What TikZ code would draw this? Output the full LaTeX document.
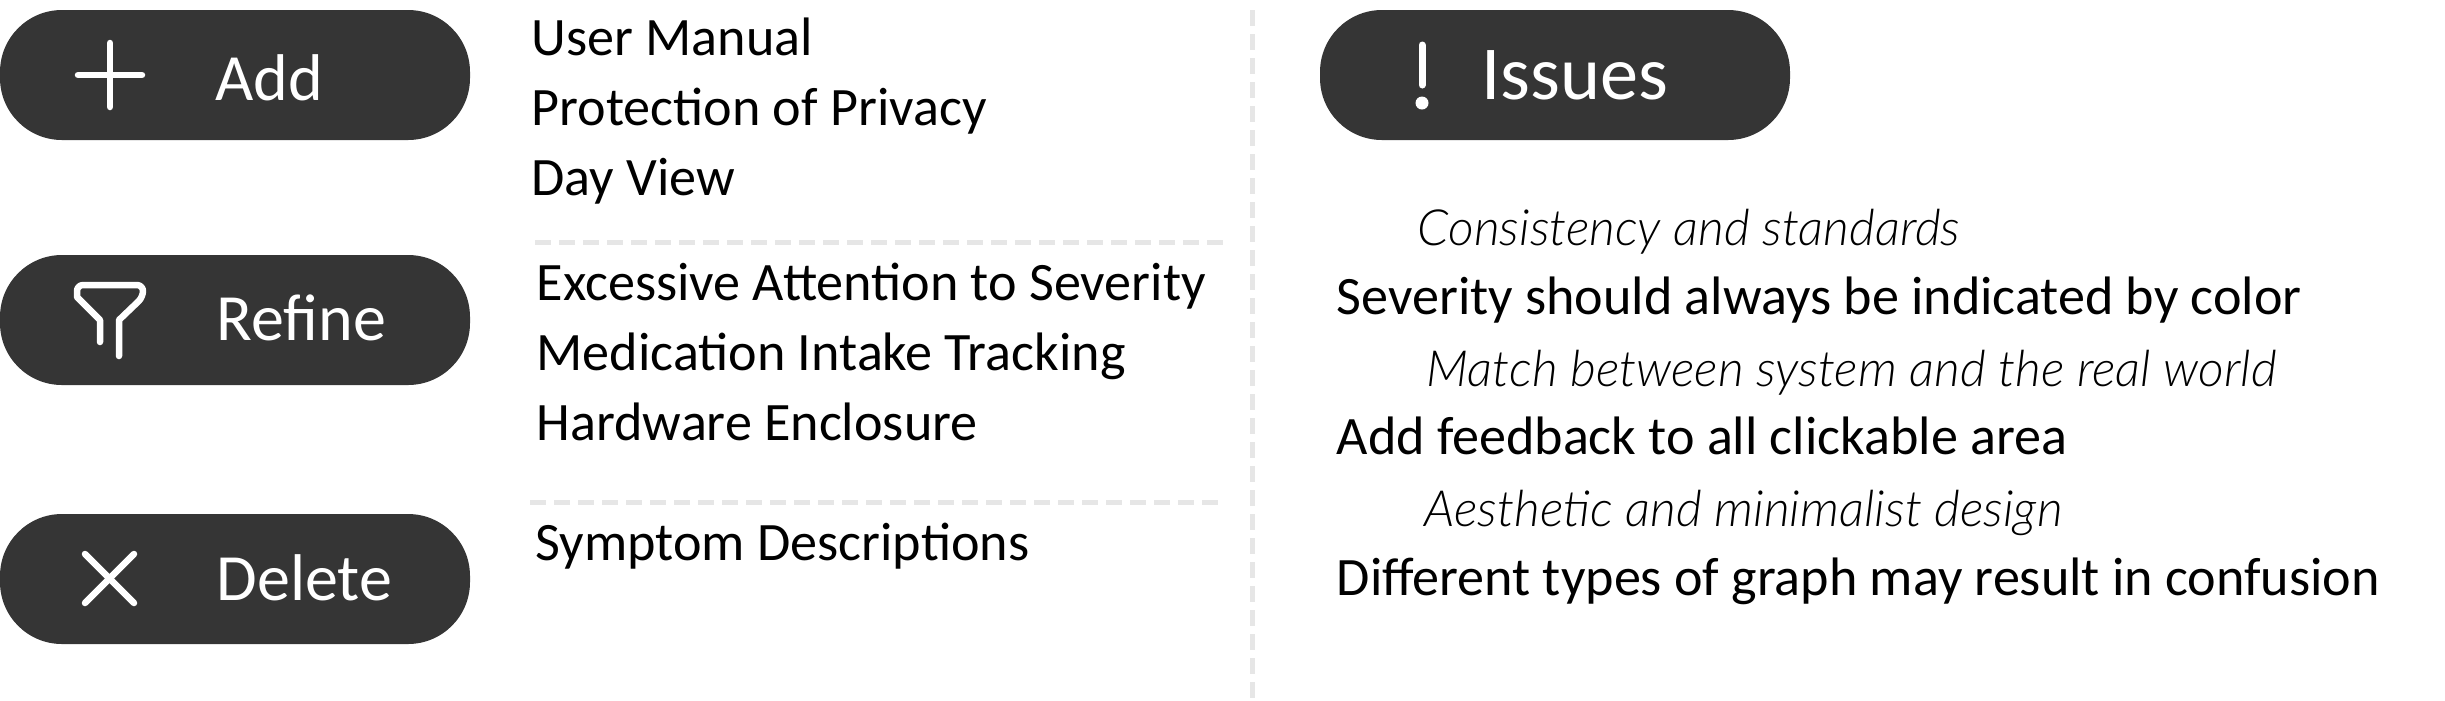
\documentclass[tikz,border=0pt]{standalone}
\usepackage{fontspec}
\setmainfont{Carlito}
\newfontfamily\lightit{Lato Light Italic}
\usepackage{xcolor}
\definecolor{pillgray}{HTML}{353535}
\definecolor{dashgray}{HTML}{E6E6E6}
\tikzset{
    pill/.style={fill=pillgray, draw=none, rounded corners=0.62cm, minimum width=4.7cm, minimum height=1.3cm, inner sep=0pt},
    pilltext/.style={anchor=base west, text=white, inner sep=0pt, font=\fontsize{18.8}{18.8}\selectfont},
    icon/.style={draw=white, line width=0.065cm, line cap=round, line join=round},
    item/.style={anchor=base west, inner sep=0pt, text=black, font=\fontsize{15.4}{15.4}\selectfont},
    rulename/.style={anchor=base west, inner sep=0pt, text=black, font=\fontsize{14.2}{14.2}\selectfont\lightit},
    divider/.style={draw=dashgray, line width=0.05cm, dash pattern=on 0.16cm off 0.08cm}
}
\begin{document}
\begin{tikzpicture}
    \useasboundingbox (0,0) rectangle (24.45,7);

    % Dividers
    \draw[divider] (12.52,6.9) -- (12.52,0);
    \draw[divider] (5.35,4.58) -- (12.25,4.58);
    \draw[divider] (5.30,1.98) -- (12.20,1.98);

    % Left pills
    \node[pill] (addpill) at (2.35,6.25) {};
    \node[pill] (refinepill) at (2.35,3.80) {};
    \node[pill] (deletepill) at (2.35,1.21) {};
    \node[pilltext] (addtext) at (2.15,6.00) {Add};
    \node[pilltext] (refinetext) at (2.16,3.60) {Refine};
    \node[pilltext] (deletetext) at (2.16,1.00) {Delete};

    % Icons
    \draw[icon] (0.78,6.25) -- (1.42,6.25);
    \draw[icon] (1.10,6.57) -- (1.10,5.93);
    \draw[icon] (1.00,3.58) -- (1.00,3.80) -- (0.77,4.03) [rounded corners=0.06cm] -- (0.77,4.15) -- (1.43,4.15) -- (1.43,4.03) [sharp corners] -- (1.19,3.80) -- (1.19,3.44);
    \draw[icon] (0.85,1.46) -- (1.34,0.97);
    \draw[icon] (1.34,1.46) -- (0.85,0.97);

    % Left lists
    \node[item] (manual) at (5.31,6.445) {User Manual};
    \node[item] (privacy) at (5.31,5.745) {Protection of Privacy};
    \node[item] (dayview) at (5.31,5.045) {Day View};
    \node[item] (attention) at (5.36,3.995) {Excessive Attention to Severity};
    \node[item] (intake) at (5.36,3.295) {Medication Intake Tracking};
    \node[item] (enclosure) at (5.36,2.595) {Hardware Enclosure};
    \node[item] (symptom) at (5.35,1.395) {Symptom Descriptions};

    % Issues pill
    \node[pill] (issuespill) at (15.55,6.25) {};
    \node[pilltext, font=\fontsize{21.7}{21.7}\selectfont] (issuestext) at (14.81,6.01) {Issues};
    \draw[icon, line width=0.07cm] (14.22,6.55) -- (14.22,6.15);
    \fill[white] (14.22,5.97) circle (0.065);

    % Issues list
    \node[rulename] (rule1) at (14.17,4.55) {Consistency and standards};
    \node[item] (issue1) at (13.36,3.855) {Severity should always be indicated by color};
    \node[rulename] (rule2) at (14.26,3.14) {Match between system and the real world};
    \node[item] (issue2) at (13.36,2.455) {Add feedback to all clickable area};
    \node[rulename] (rule3) at (14.24,1.74) {Aesthetic and minimalist design};
    \node[item] (issue3) at (13.36,1.045) {Different types of graph may result in confusion};
\end{tikzpicture}
\end{document}
